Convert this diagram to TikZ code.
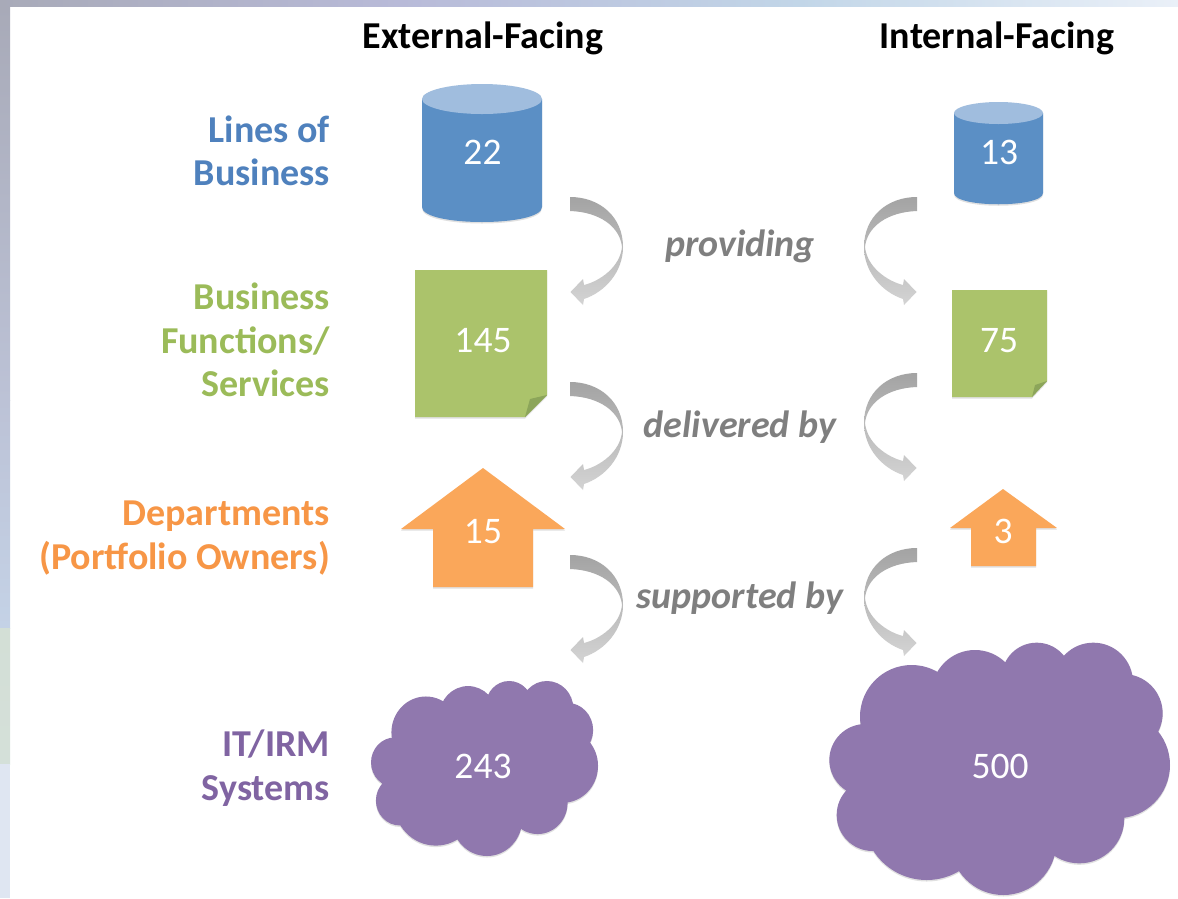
\documentclass[tikz,border=0pt]{standalone}
\usepackage{fontspec}
\setmainfont{Carlito}
\definecolor{cylside}{HTML}{5B8FC5}
\definecolor{cyltop}{HTML}{A0BDDE}
\definecolor{notefill}{HTML}{ABC36B}
\definecolor{notefold}{HTML}{8CA55A}
\definecolor{housefill}{HTML}{FAA75A}
\definecolor{cloudfill}{HTML}{9078AE}
\definecolor{linetext}{HTML}{4F81BD}
\definecolor{functext}{HTML}{9BBB59}
\definecolor{depttext}{HTML}{F79646}
\definecolor{systext}{HTML}{8064A2}
\definecolor{verbtext}{HTML}{7F7F7F}
\definecolor{bgA}{HTML}{A8AAB8}
\definecolor{bgB}{HTML}{BCC2D6}
\definecolor{bgC}{HTML}{C4D2E6}
\definecolor{bgD}{HTML}{D3DFD6}
\definecolor{bgE}{HTML}{DFE6F2}
\definecolor{bgF}{HTML}{B8BAD8}
\definecolor{bgG}{HTML}{C2D6E8}
\definecolor{bgH}{HTML}{EAF0F8}
\tikzset{
  softshadow/.style={preaction={fill=black!12,transform canvas={yshift=-1.5pt}}},
  heading/.style={font=\fontsize{38}{44}\selectfont\bfseries,anchor=base},
  rowlabel/.style={font=\fontsize{38}{43.5}\selectfont\bfseries,anchor=east,align=right,inner sep=0pt},
  verb/.style={font=\fontsize{38}{44}\selectfont\bfseries\itshape,text=verbtext,anchor=base},
  count/.style={font=\fontsize{37.5}{44}\selectfont,text=white,anchor=base},
  bendarrow/.pic={
    \shade[top color=black!36,bottom color=black!17]
      (0,0) .. controls (30,0) and (53,20) .. (53,50)
      .. controls (53,75) and (35,95) .. (14,102)
      -- (13,108) -- (0.5,95) -- (13,82) -- (14,88)
      .. controls (30,84) and (50,70) .. (52,50)
      .. controls (50,30) and (30,15) .. (0,14) -- cycle;
  },
  puffcloud/.pic={
    \fill[cloudfill,softshadow] \foreach \x/\y/\r in {275/260/155,465/190/130,650/143/105,820/157/119,910/250/118,890/405/160,778/565/135,550/636/159,320/560/190,158/555/108,136/390/108} {(\x,\y) circle[radius=\r]};
    \fill[cloudfill] (275,260)--(465,190)--(650,143)--(820,157)--(910,250)--(890,405)--(778,565)--(550,636)--(320,560)--(158,555)--(136,390)--cycle;
  }
}
\begin{document}
\begin{tikzpicture}[x=1pt,y=-1pt]
    \useasboundingbox (0,0) rectangle (1178,898);
    % backdrop strips
    \fill[white] (0,0) rectangle (1178,898);
    \shade[left color=bgA,right color=bgF] (0,0) rectangle (400,6);
    \shade[left color=bgF,right color=bgG] (400,0) rectangle (800,6);
    \shade[left color=bgG,right color=bgH] (800,0) rectangle (1178,6);
    \shade[top color=bgA,bottom color=bgB] (0,6) rectangle (10,400);
    \shade[top color=bgB,bottom color=bgC] (0,400) rectangle (10,628);
    \shade[top color=bgD,bottom color=bgD!90!bgE] (0,628) rectangle (10,764);
    \fill[bgE] (0,764) rectangle (10,898);
    % headings
    \node[heading] (exthead) at (483,48) {External-Facing};
    \node[heading] (inthead) at (997,48) {Internal-Facing};
    % row labels
    \node[rowlabel,text=linetext] (lines) at (330,151) {Lines of\\Business};
    \node[rowlabel,text=functext] (funcs) at (330,340) {Business\\Functions/\\Services};
    \node[rowlabel,text=depttext] (depts) at (330,538) {Departments\\(Portfolio Owners)};
    \node[rowlabel,text=systext] (systems) at (330,768) {IT/IRM\\Systems};
    % cylinders
    \fill[cylside,softshadow] (422,99)--(422,207) .. controls (422,227) and (542,227) .. (542,207)--(542,99)--cycle;
    \fill[cyltop] (482,99) ellipse[x radius=60pt,y radius=15pt];
    \fill[cylside,softshadow] (954,113)--(954,193) .. controls (954,208) and (1043,208) .. (1043,193)--(1043,113)--cycle;
    \fill[cyltop] (998.5,113) ellipse[x radius=44.5pt,y radius=11pt];
    % notes
    \fill[notefill,softshadow] (415,270)--(547,270)--(547,395)--(525,417)--(415,417)--cycle;
    \fill[notefold] (547,395)--(525,417)--(530,399)--cycle;
    \fill[notefill,softshadow] (952,290)--(1047,290)--(1047,381)--(1032,397)--(952,397)--cycle;
    \fill[notefold] (1047,381)--(1032,397)--(1035,385)--cycle;
    % houses
    \fill[housefill,softshadow] (483,468)--(565,529)--(533,529)--(533,587)--(433,587)--(433,529)--(401,529)--cycle;
    \fill[housefill,softshadow] (1003,489)--(1057,528)--(1036,528)--(1036,566)--(971,566)--(971,528)--(950,528)--cycle;
    % clouds
    \pic[xscale=.2221,yscale=.2312] (extcloud) at (364.8,672.2) {puffcloud};
    \pic[scale=1/3] (intcloud) at (820,630) {puffcloud};
    % counts
    \node[count] (c22) at (482.5,164) {22};
    \node[count] (c145) at (483,352) {145};
    \node[count] (c15) at (483,543) {15};
    \node[count] (c243) at (483,778) {243};
    \node[count] (c13) at (999,164) {13};
    \node[count] (c75) at (999,352) {75};
    \node[count] (c3) at (1003,543) {3};
    \node[count] (c500) at (1000,778) {500};
    % arrows
    \foreach \y in {197,382,555} \pic at (570,\y) {bendarrow};
    \foreach \y in {197,373,548} \pic[xscale=-1] at (917,\y) {bendarrow};
    % verbs
    \node[verb] (providing) at (740,256) {providing};
    \node[verb] (delivered) at (740,437) {delivered by};
    \node[verb] (supported) at (740,608) {supported by};
\end{tikzpicture}
\end{document}
